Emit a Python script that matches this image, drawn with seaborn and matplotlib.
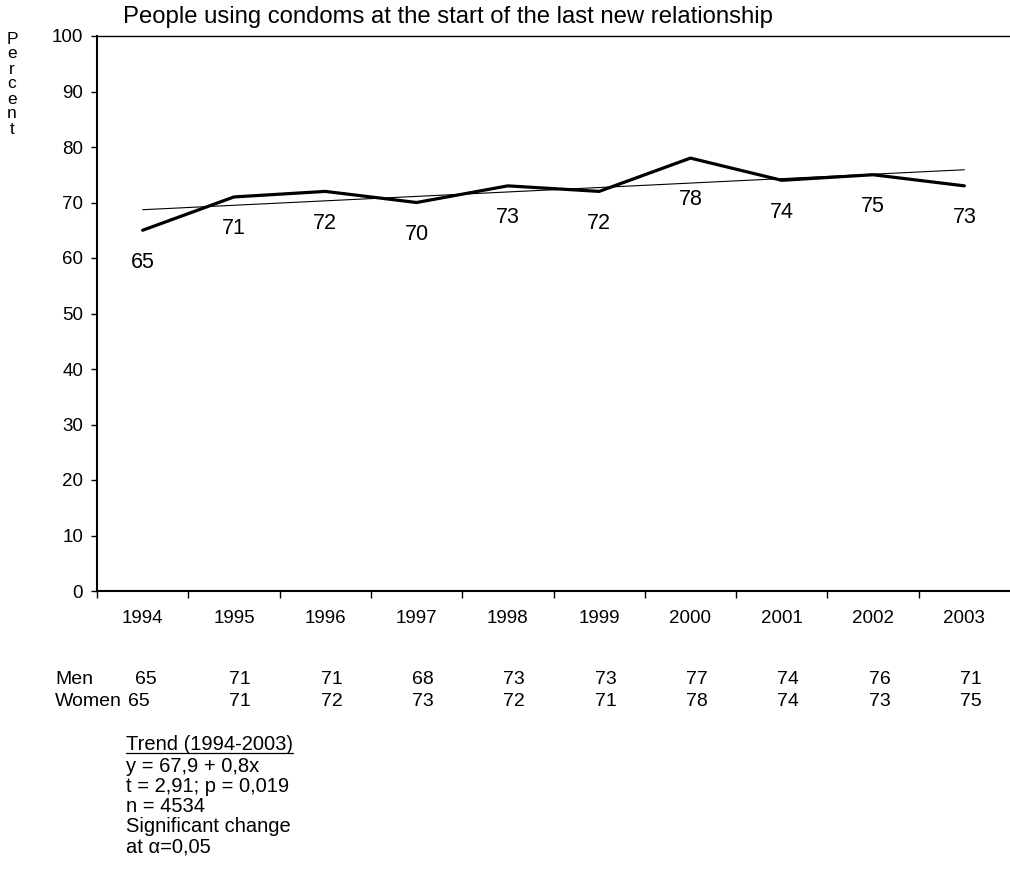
import matplotlib
matplotlib.use("Agg")
import matplotlib.pyplot as plt
import seaborn as sns
import pandas as pd
import numpy as np

years = ["1994", "1995", "1996", "1997", "1998", "1999", "2000", "2001", "2002", "2003"]
total = [65, 71, 72, 70, 73, 72, 78, 74, 75, 73]
men = [65, 71, 71, 68, 73, 73, 77, 74, 76, 71]
women = [65, 71, 72, 73, 72, 71, 78, 74, 73, 75]
trend_intercept = 67.9
trend_slope = 0.8
yticks = [0, 10, 20, 30, 40, 50, 60, 70, 80, 90, 100]
title = "People using condoms at the start of the last new relationship"
ylabel = "Percent"
row_labels = ["Men", "Women"]
trend_lines = ["Trend (1994-2003)", "y = 67,9 + 0,8x", "t = 2,91; p = 0,019",
               "n = 4534", "Significant change", "at \u03b1=0,05"]

sns.set_theme(style="white")
plt.rcParams['font.family'] = ['Liberation Sans', 'DejaVu Sans']
for k in ["text.color", "axes.labelcolor", "xtick.color", "ytick.color", "axes.edgecolor"]:
    plt.rcParams[k] = "black"

fig = plt.figure(figsize=(10.10, 8.76), dpi=100)
ax = fig.add_axes([97/1010, (876-591)/876, (1010-97)/1010, (591-36)/876])

pos = np.arange(len(years))
df = pd.DataFrame({"pos": pos, "value": total})
trend = [trend_intercept + trend_slope * (i + 1) for i in pos]
df_t = pd.DataFrame({"pos": pos, "trend": trend})

sns.lineplot(data=df_t, x="pos", y="trend", ax=ax, color="black", linewidth=0.8)
sns.lineplot(data=df, x="pos", y="value", ax=ax, color="black", linewidth=2.3)

for p, v in zip(pos, total):
    dy = -30 if years[p] == "2000" else -23
    ax.annotate(str(v), (p, v), xytext=(0, dy), textcoords="offset points",
                ha="center", va="center", fontsize=15.5, color="black")

ax.set_xlim(-0.5, 9.5)
ax.set_ylim(0, 100)
ax.set_xlabel("")
ax.set_ylabel("")

for s in ["left", "top", "bottom"]:
    ax.spines[s].set_visible(True)
    ax.spines[s].set_color("black")
ax.spines["left"].set_linewidth(1.5)
ax.spines["bottom"].set_linewidth(1.5)
ax.spines["top"].set_linewidth(1.0)
ax.spines["right"].set_visible(False)

ax.set_yticks(yticks)
ax.set_yticklabels([str(t) for t in yticks], fontsize=13.5)
ax.tick_params(axis="y", which="major", direction="out", length=4, width=1, color="black", pad=6, left=True)

ax.set_xticks(np.arange(-0.5, 9.0, 1.0))
ax.set_xticklabels([])
ax.tick_params(axis="x", which="major", direction="out", length=5, width=1, color="black", bottom=True)
ax.set_xticks(pos, minor=True)
ax.set_xticklabels(years, minor=True, fontsize=13.5)
ax.tick_params(axis="x", which="minor", length=0, pad=14)
ax.grid(False)

fig.text(123/1010, 1 - 17/876, title, fontsize=17.2, ha="left", va="center")

# vertical stacked y label
for i, ch in enumerate(ylabel):
    fig.text(12/1010, 1 - (39 + i * 15) / 876, ch, fontsize=12.5, ha="center", va="center")

# table below
trans = ax.get_xaxis_transform()
fig.text(55/1010, 1 - 680/876, row_labels[0], fontsize=14, ha="left", va="center")
fig.text(55/1010, 1 - 702/876, row_labels[1], fontsize=14, ha="left", va="center")
y_men = -(680 - 591) / 555
y_wom = -(702 - 591) / 555
for p, m, w in zip(pos, men, women):
    dx_m = 0.03 if p == 0 else 0.07
    dx_w = -0.04 if p == 0 else 0.07
    ax.text(p + dx_m, y_men, str(m), transform=trans, fontsize=14, ha="center", va="center", clip_on=False)
    ax.text(p + dx_w, y_wom, str(w), transform=trans, fontsize=14, ha="center", va="center", clip_on=False)

# trend text
ys = [745, 766, 786, 806, 826, 847]
tobjs = []
for t, yy in zip(trend_lines, ys):
    tobjs.append(fig.text(126/1010, 1 - yy/876, t, fontsize=14.5, ha="left", va="center"))
fig.canvas.draw()
bb = tobjs[0].get_window_extent().transformed(fig.transFigure.inverted())
fig.add_artist(plt.Line2D([bb.x0, bb.x1], [bb.y0 + 0.002, bb.y0 + 0.002],
                          transform=fig.transFigure, color="black", linewidth=0.9))

fig.savefig("out.png", dpi=100)
